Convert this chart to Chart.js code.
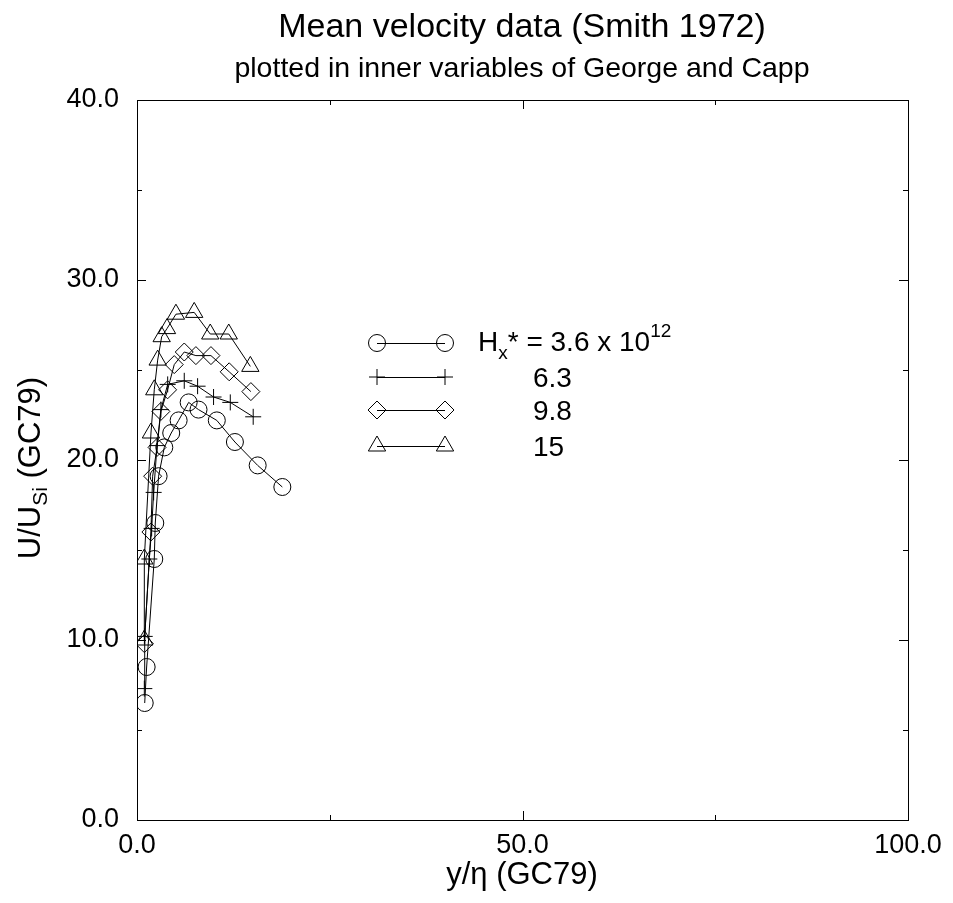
<!DOCTYPE html>
<html>
<head>
<meta charset="utf-8">
<script src="https://cdn.jsdelivr.net/npm/chart.js@4.4.1/dist/chart.umd.min.js"></script>
<style>
  html, body { margin: 0; padding: 0; background: #fff; }
  #wrap { width: 953px; height: 903px; }
</style>
</head>
<body>
<div id="wrap"><canvas id="c" width="953" height="903"></canvas></div>
<script>
/***** data *****/
const xTicks = [0, 50, 100];
const yTicks = [0, 10, 20, 30, 40];

// H_x* = 3.6 x 10^12  (circles)
const circX = [1.0, 1.25, 2.24, 2.37, 2.8, 3.54, 4.44, 5.4, 6.7, 7.98, 10.35, 12.7, 15.65, 18.85];
const circY = [6.5, 8.5, 14.5, 16.5, 19.1, 20.7, 21.5, 22.2, 23.2, 22.8, 22.2, 21.0, 19.7, 18.5];

// 6.3  (plus)
const plusX = [0.95, 1.0, 1.6, 1.9, 2.16, 2.6, 3.1, 3.98, 6.13, 7.86, 9.93, 12.1, 15.07];
const plusY = [7.3, 10.2, 14.5, 16.2, 18.2, 20.8, 22.8, 24.2, 24.4, 24.1, 23.5, 23.2, 22.4];

// 9.8  (diamonds)
const diamX = [0.95, 1.8, 2.03, 2.6, 3.1, 3.97, 4.83, 6.13, 7.64, 9.59, 11.96, 14.77];
const diamY = [9.8, 16.0, 19.1, 20.7, 22.7, 23.9, 25.3, 26.0, 25.8, 25.8, 24.9, 23.8];

// 15  (triangles)
const triX = [0.95, 0.95, 1.81, 2.24, 2.68, 3.2, 3.89, 5.05, 7.42, 9.5, 11.9, 14.7];
const triY = [10.0, 14.5, 21.5, 23.9, 25.55, 26.85, 27.3, 28.1, 28.2, 27.0, 27.0, 25.2];

const FONT = "'Liberation Sans', Arial, sans-serif";
const pts = (xs, ys) => xs.map((x, i) => ({ x, y: ys[i] }));

const series = [
  { label: "3.6", data: pts(circX, circY), style: "circle",   r: 8.5 },
  { label: "6.3", data: pts(plusX, plusY), style: "cross",    r: 8 },
  { label: "9.8", data: pts(diamX, diamY), style: "rectRot",  r: 9 },
  { label: "15",  data: pts(triX, triY),   style: "triangle", r: 10 }
];

/***** helpers *****/
function textWithScripts(ctx, parts, x, y){
  // parts: [text, size, dy]
  let cx = x;
  for (const [t, size, dy] of parts){
    ctx.font = `${size}px ${FONT}`;
    ctx.fillText(t, cx, y + dy);
    cx += ctx.measureText(t).width;
  }
  return cx;
}

/***** plugin: frame, inward ticks, titles, legend *****/
const decor = {
  id: "decor",
  afterDraw(chart){
    const { ctx, chartArea: a, scales: { x, y } } = chart;
    ctx.save();
    ctx.strokeStyle = "#000";
    ctx.lineWidth = 1;
    ctx.strokeRect(a.left + 0.5, a.top + 0.5, a.right - a.left, a.bottom - a.top);

    ctx.beginPath();
    for (let v = 0; v <= 40; v += 5){
      const p = Math.round(y.getPixelForValue(v)) + 0.5;
      const len = v % 10 === 0 ? 9 : 5;
      ctx.moveTo(a.left, p); ctx.lineTo(a.left + len, p);
      ctx.moveTo(a.right, p); ctx.lineTo(a.right - len, p);
    }
    for (let v = 0; v <= 100; v += 25){
      const p = Math.round(x.getPixelForValue(v)) + 0.5;
      const len = v % 50 === 0 ? 9 : 5;
      ctx.moveTo(p, a.bottom); ctx.lineTo(p, a.bottom - len);
      ctx.moveTo(p, a.top); ctx.lineTo(p, a.top + len);
    }
    ctx.stroke();

    // titles
    ctx.fillStyle = "#000";
    ctx.textAlign = "center";
    ctx.textBaseline = "alphabetic";
    ctx.font = `34px ${FONT}`;
    ctx.fillText("Mean velocity data (Smith 1972)", 522, 37);
    ctx.font = `28.5px ${FONT}`;
    ctx.fillText("plotted in inner variables of George and Capp", 522, 77);
    ctx.font = `31px ${FONT}`;
    ctx.fillText("y/\u03b7 (GC79)", 522, 884);

    // y title with subscript
    ctx.save();
    ctx.translate(40, 468);
    ctx.rotate(-Math.PI / 2);
    ctx.textAlign = "left";
    const yParts = [["U/U", 31, 0], ["Si", 21, 7], [" (GC79)", 31, 0]];
    let w = 0;
    for (const [t, s] of yParts){ ctx.font = `${s}px ${FONT}`; w += ctx.measureText(t).width; }
    textWithScripts(ctx, yParts, -w / 2, 0);
    ctx.restore();

    // legend
    const rows = [343, 377, 410, 446];
    ctx.textAlign = "left";
    series.forEach((s, i) => {
      const ly = rows[i];
      ctx.beginPath();
      ctx.moveTo(377, ly + 0.5); ctx.lineTo(445, ly + 0.5);
      ctx.stroke();
      const opts = { pointStyle: s.style, radius: s.r, borderWidth: 1 };
      ctx.fillStyle = "rgba(0,0,0,0)";
      Chart.helpers.drawPoint(ctx, opts, 377, ly);
      Chart.helpers.drawPoint(ctx, opts, 445, ly);
      ctx.fillStyle = "#000";
      if (i === 0){
        textWithScripts(ctx, [["H", 28, 0], ["x", 19, 8], ["* = 3.6 x 10", 28, 0], ["12", 19, -14]], 478, ly + 8);
      } else {
        ctx.font = `28px ${FONT}`;
        ctx.fillText(s.label, 533, ly + 10);
      }
    });
    ctx.restore();
  }
};

/***** chart *****/
new Chart(document.getElementById("c"), {
  type: "scatter",
  data: {
    datasets: series.map(s => ({
      label: s.label,
      data: s.data,
      showLine: true,
      borderColor: "#000",
      borderWidth: 1,
      pointStyle: s.style,
      pointRadius: s.r,
      pointBackgroundColor: "rgba(0,0,0,0)",
      pointBorderColor: "#000",
      pointBorderWidth: 1,
      tension: 0
    }))
  },
  options: {
    responsive: false,
    animation: false,
    events: [],
    layout: { padding: { left: 0, top: 100, right: 45, bottom: 0 } },
    plugins: { legend: { display: false }, tooltip: { enabled: false } },
    scales: {
      x: {
        type: "linear", min: 0, max: 100,
        afterBuildTicks: s => { s.ticks = xTicks.map(v => ({ value: v })); },
        afterFit: s => { s.height = 83; },
        grid: { display: false },
        border: { display: false },
        ticks: { color: "#000", font: { family: FONT, size: 27 }, padding: 1, maxRotation: 0,
                 callback: v => Number(v).toFixed(1) }
      },
      y: {
        type: "linear", min: 0, max: 40,
        afterBuildTicks: s => { s.ticks = yTicks.map(v => ({ value: v })); },
        afterFit: s => { s.width = 137; },
        grid: { display: false },
        border: { display: false },
        ticks: { color: "#000", font: { family: FONT, size: 27 }, padding: 10,
                 callback: v => Number(v).toFixed(1) }
      }
    }
  },
  plugins: [decor]
});
</script>
</body>
</html>
